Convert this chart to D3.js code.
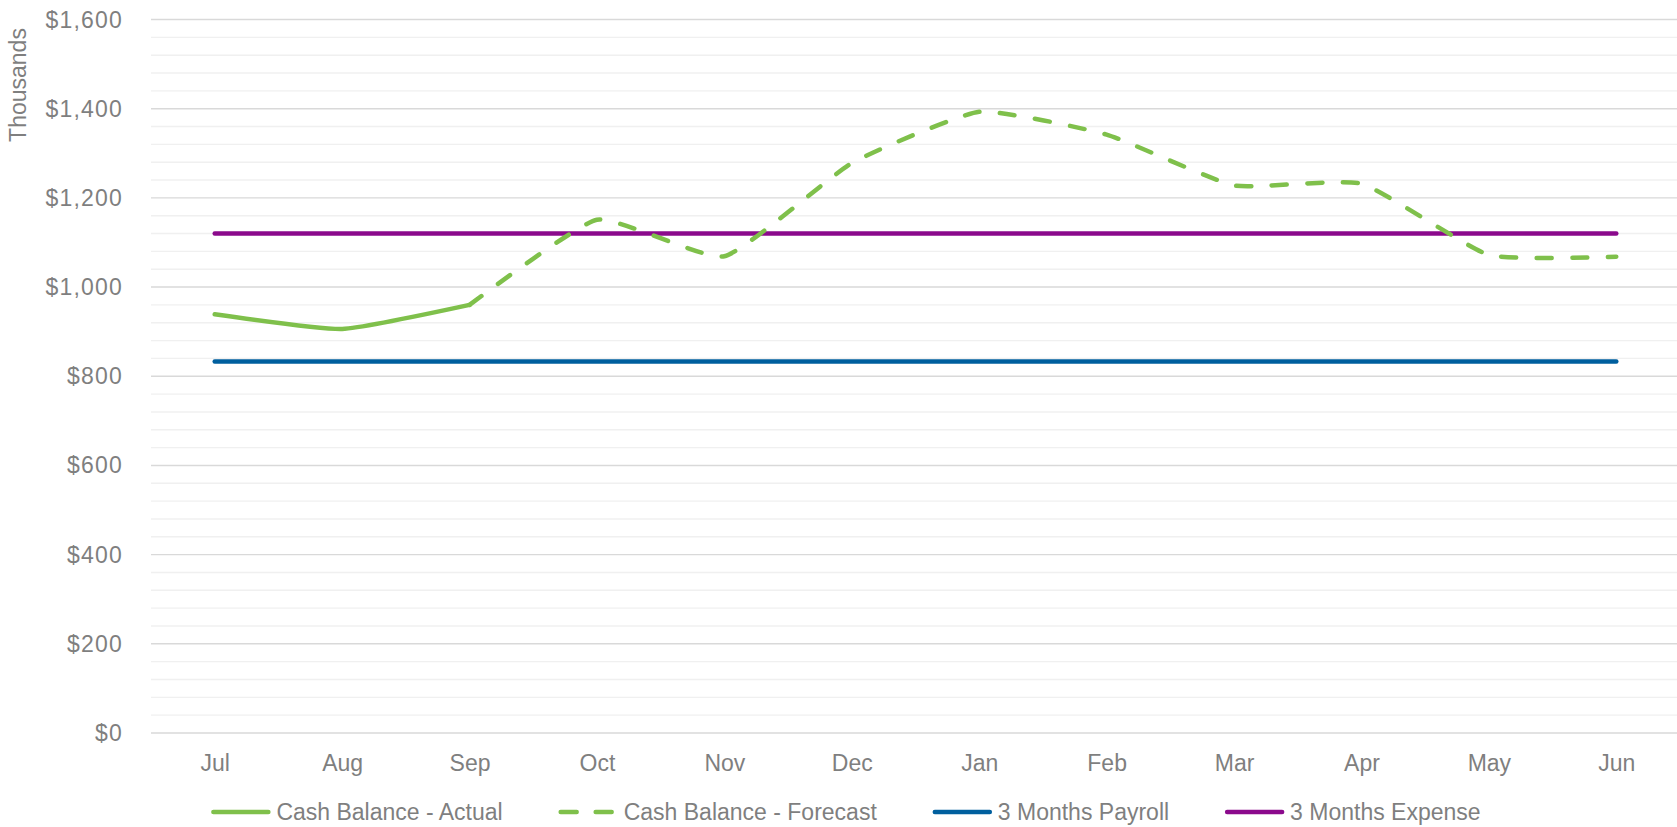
<!DOCTYPE html>
<html><head><meta charset="utf-8">
<script src="https://cdn.jsdelivr.net/npm/d3@7"></script>
<style>
body{margin:0;background:#fff;}
svg text{font-family:"Liberation Sans",Arial,sans-serif;fill:#7f7f7f;}
</style>
</head><body>
<svg id="chart" width="1677" height="827"></svg>
<script>
const months = ["Jul","Aug","Sep","Oct","Nov","Dec","Jan","Feb","Mar","Apr","May","Jun"];
const cashActual   = [939, 906, 960, null, null, null, null, null, null, null, null, null];
const cashForecast = [null, null, 960, 1151, 1069, 1278, 1393, 1342, 1228, 1232, 1072, 1068];
const payroll3m    = [833, 833, 833, 833, 833, 833, 833, 833, 833, 833, 833, 833];
const expense3m    = [1120, 1120, 1120, 1120, 1120, 1120, 1120, 1120, 1120, 1120, 1120, 1120];
const yTicks       = [0, 200, 400, 600, 800, 1000, 1200, 1400, 1600];
const yTickLabels  = ["$0","$200","$400","$600","$800","$1,000","$1,200","$1,400","$1,600"];
const seriesNames  = ["Cash Balance - Actual","Cash Balance - Forecast","3 Months Payroll","3 Months Expense"];
const axisTitle    = "Thousands";

const svg = d3.select("#chart");
const FS = 23;
const left = 151, right = 1677, xEnd = 1680;
const x = d3.scalePoint().domain(months).range([left, xEnd]).padding(0.5);
const y = d3.scaleLinear().domain([0, 1600]).range([733, 19.5]);

// gridlines
const minor = d3.range(0, 1601, 40).filter(v => v % 200 !== 0);
svg.append("g").selectAll("line").data(minor).join("line")
  .attr("x1", left).attr("x2", right)
  .attr("y1", d => y(d)).attr("y2", d => y(d))
  .attr("stroke", "#f0f0f0").attr("stroke-width", 1.4);
svg.append("g").selectAll("line").data(yTicks).join("line")
  .attr("x1", left).attr("x2", right)
  .attr("y1", d => y(d)).attr("y2", d => y(d))
  .attr("stroke", "#d9d9d9").attr("stroke-width", 1.4);

// y axis labels
svg.append("g").selectAll("text").data(yTicks).join("text")
  .attr("x", 123).attr("y", d => y(d)).attr("dy", "0.35em")
  .attr("text-anchor", "end").attr("font-size", FS)
  .attr("letter-spacing", "1.2px")
  .text((d, i) => yTickLabels[i]);

// x axis labels
const xAxis = svg.append("g").attr("transform", `translate(0,${y(0)})`)
  .call(d3.axisBottom(x).tickSize(0).tickPadding(22));
xAxis.select(".domain").remove();
xAxis.selectAll("text").attr("font-size", FS).style("font-family", "'Liberation Sans',Arial,sans-serif").attr("fill", "#7f7f7f");

// axis title
svg.append("text").attr("transform", "translate(26,85) rotate(-90)")
  .attr("text-anchor", "middle").attr("font-size", FS).text(axisTitle);

const colors = ["#7fc04b", "#7fc04b", "#005f9e", "#8b0a8c"];
const dashes = [null, "15,20.5", null, null];
const seriesData = [cashActual, cashForecast, payroll3m, expense3m];

const line = d3.line()
  .defined(d => d != null)
  .x((d, i) => x(months[i]))
  .y(d => y(d))
  .curve(d3.curveCardinal.tension(0.55));

// draw order: payroll, expense, actual, forecast
[2, 3, 0, 1].forEach(k => {
  svg.append("path").datum(seriesData[k])
    .attr("d", line)
    .attr("fill", "none")
    .attr("stroke", colors[k])
    .attr("stroke-width", 4.5)
    .attr("stroke-linecap", "round")
    .attr("stroke-linejoin", "round")
    .attr("stroke-dasharray", dashes[k]);
});

// legend
const legY = 812;
const leg = svg.append("g");
const items = seriesNames.map((name, k) => {
  const g = leg.append("g");
  g.append("line").attr("x1", 2).attr("x2", 57).attr("y1", legY).attr("y2", legY)
    .attr("stroke", colors[k]).attr("stroke-width", 4.5).attr("stroke-linecap", "round")
    .attr("stroke-dasharray", k === 1 ? "16,19" : null);
  const t = g.append("text").attr("x", 65).attr("y", legY).attr("dy", "0.35em")
    .attr("font-size", FS).text(name);
  return {g, w: 65 + t.node().getComputedTextLength()};
});
const gap = 56;
const total = d3.sum(items, d => d.w) + gap * (items.length - 1);
let cx = 846 - total / 2;
items.forEach(it => { it.g.attr("transform", `translate(${cx},0)`); cx += it.w + gap; });
</script>
</body></html>
